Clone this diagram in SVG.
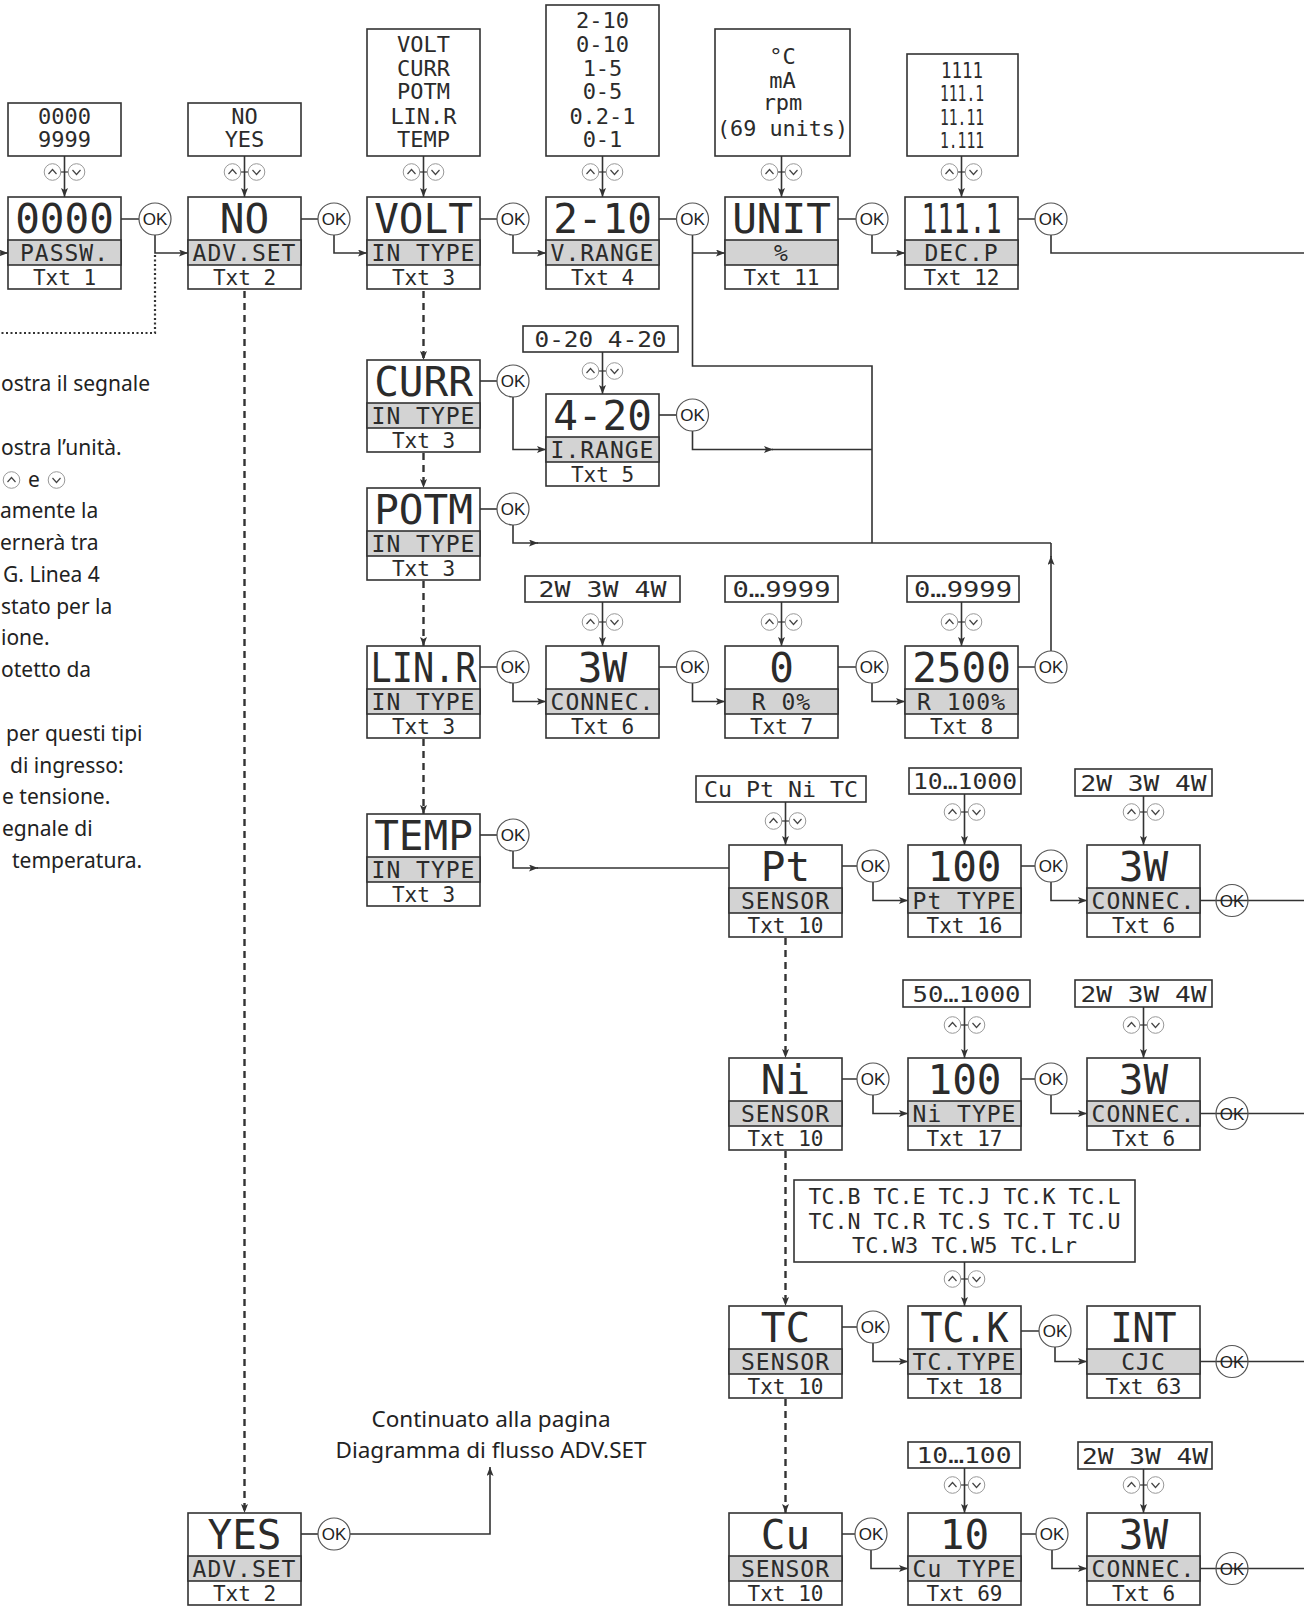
<svg xmlns="http://www.w3.org/2000/svg" width="1304" height="1606" viewBox="0 0 1304 1606">
<defs>
<style>
.bx{fill:#fff;stroke:#333;stroke-width:1.6}
.bd{fill:#d3d3d3;stroke:#333;stroke-width:1.6}
.lcd{font-family:"DejaVu Sans Mono","Liberation Mono",monospace;fill:#2b2b2b;text-anchor:middle}
.big{font-size:41px}
.mid{font-size:23px;letter-spacing:1px}
.sm{font-size:21px}
.opt{font-size:22px}
.ln{fill:none;stroke:#333;stroke-width:1.6}
.dash{stroke-dasharray:7 5;stroke-width:2.4}
.dot{stroke-dasharray:2 2.5;stroke-width:2.2}
.ok{fill:#fff;stroke:#555;stroke-width:1.2}
.okl{fill:none;stroke:#555;stroke-width:1.2}
.okt{font-family:"Liberation Sans",Arial,sans-serif;font-size:17px;fill:#222;text-anchor:middle}
.ic{fill:#fff;stroke:#999;stroke-width:1}
.ch{fill:none;stroke:#444;stroke-width:1.2}
.note{font-family:"Noto Sans","Open Sans",sans-serif;font-size:21px;fill:#222}
.cont{font-size:22.5px}
</style>
<marker id="ah" viewBox="0 0 9 7" markerWidth="9" markerHeight="7" refX="9" refY="3.5" orient="auto" markerUnits="userSpaceOnUse"><path d="M0,0 L9,3.5 L0,7 L2,3.5 z" fill="#333"/></marker>
<g id="frame"><rect class="bx" x="0" y="0" width="113" height="92"/><rect class="bd" x="0" y="43" width="113" height="25"/></g>
<g id="icup"><circle class="ic" cx="0" cy="0" r="8.3"/><path class="ch" d="M-4,2 L0,-2.5 L4,2"/></g>
<g id="icdn"><circle class="ic" cx="0" cy="0" r="8.3"/><path class="ch" d="M-4,-2 L0,2.5 L4,-2"/></g>
<g id="ud"><line x1="-4" y1="0" x2="4" y2="0" stroke="#333" stroke-width="1.2"/><use href="#icup" x="-12"/><use href="#icdn" x="12"/></g>
</defs>
<rect width="1304" height="1606" fill="#fff"/>

<g id="notes" class="note">
<text x="1" y="391">ostra il segnale</text>
<text x="1" y="455">ostra l’unità.</text>
<use href="#icup" x="11.5" y="480"/>
<text x="28" y="487">e</text>
<use href="#icdn" x="56.5" y="480"/>
<text x="0" y="518">amente la</text>
<text x="0" y="550">ernerà tra</text>
<text x="3" y="582">G. Linea 4</text>
<text x="1" y="614">stato per la</text>
<text x="1" y="645">ione.</text>
<text x="1" y="677">otetto da</text>
<text x="6" y="741">per questi tipi</text>
<text x="10" y="773">di ingresso:</text>
<text x="2" y="804">e tensione.</text>
<text x="2" y="836">egnale di</text>
<text x="12" y="868">temperatura.</text>
<text class="cont" x="491" y="1427" text-anchor="middle">Continuato alla pagina</text>
<text class="cont" x="491" y="1458" text-anchor="middle">Diagramma di flusso ADV.SET</text>
</g>

<g id="connectors" class="ln">
<path d="M121,219 H139 M301,219 H318 M480,219 H497 M659,219 H676.5 M838,219 H856 M1018,219 H1035"/>
<path d="M155,235 V253 H188" marker-end="url(#ah)"/>
<path d="M334,235 V253 H367" marker-end="url(#ah)"/>
<path d="M513,235 V253 H546" marker-end="url(#ah)"/>
<path d="M692.5,235 V366 H872 V543"/>
<path d="M692.5,253 H725" marker-end="url(#ah)"/>
<path d="M872,235 V253 H905" marker-end="url(#ah)"/>
<path d="M1051,235 V253 H1304"/>
<path d="M0,253 H8" marker-end="url(#ah)"/>
<path class="dot" d="M155,255 V333 H0"/>
<path d="M64.5,156 V197" marker-end="url(#ah)"/>
<path d="M244.5,156 V197" marker-end="url(#ah)"/>
<path d="M423.5,156 V197" marker-end="url(#ah)"/>
<path d="M602.5,156 V197" marker-end="url(#ah)"/>
<path d="M781.5,156 V197" marker-end="url(#ah)"/>
<path d="M961.5,156 V197" marker-end="url(#ah)"/>
<path class="dash" d="M244.5,291 V1513" marker-end="url(#ah)"/>
<path class="dash" d="M423.5,291 V360" marker-end="url(#ah)"/>
<path class="dash" d="M423.5,453 V488" marker-end="url(#ah)"/>
<path class="dash" d="M423.5,581 V646" marker-end="url(#ah)"/>
<path class="dash" d="M423.5,739 V814" marker-end="url(#ah)"/>
<path d="M480,381 H497"/>
<path d="M513,397 V449.5 H546" marker-end="url(#ah)"/>
<path d="M602.5,352 V394" marker-end="url(#ah)"/>
<path d="M659,415 H676.5"/>
<path d="M692.5,431 V449.5 H773" marker-end="url(#ah)"/>
<path d="M772,449.5 H872"/>
<path d="M480,509 H497"/>
<path d="M513,525 V543 H538" marker-end="url(#ah)"/>
<path d="M537,543 H1051"/>
<path d="M480,667 H497 M659,667 H676.5 M838,667 H856 M1018,667 H1035"/>
<path d="M513,683 V701.5 H546" marker-end="url(#ah)"/>
<path d="M692.5,683 V701.5 H725" marker-end="url(#ah)"/>
<path d="M872,683 V701.5 H905" marker-end="url(#ah)"/>
<path d="M1051,651 V556" marker-end="url(#ah)"/>
<path d="M1051,557 V543"/>
<path d="M602.5,602 V646" marker-end="url(#ah)"/>
<path d="M781.5,602 V646" marker-end="url(#ah)"/>
<path d="M961.5,602 V646" marker-end="url(#ah)"/>
<path d="M480,835 H497"/>
<path d="M513,851 V868 H538" marker-end="url(#ah)"/>
<path d="M537,868 H729"/>
<path d="M785.5,802 V845" marker-end="url(#ah)"/>
<path d="M964.5,794 V845" marker-end="url(#ah)"/>
<path d="M1143.5,796 V845" marker-end="url(#ah)"/>
<path d="M842,866 H857 M1021,866 H1035"/>
<path d="M873,882 V900.5 H908" marker-end="url(#ah)"/>
<path d="M1051,882 V900.5 H1087" marker-end="url(#ah)"/>
<path d="M1200,900.5 H1304"/>
<path class="dash" d="M785.5,938 V1058" marker-end="url(#ah)"/>
<path d="M964.5,1007 V1058" marker-end="url(#ah)"/>
<path d="M1143.5,1007 V1058" marker-end="url(#ah)"/>
<path d="M842,1079 H857 M1021,1079 H1035"/>
<path d="M873,1095 V1113.5 H908" marker-end="url(#ah)"/>
<path d="M1051,1095 V1113.5 H1087" marker-end="url(#ah)"/>
<path d="M1200,1113.5 H1304"/>
<path class="dash" d="M785.5,1151 V1306" marker-end="url(#ah)"/>
<path d="M964.5,1262 V1306" marker-end="url(#ah)"/>
<path d="M842,1327 H857 M1021,1331 H1039"/>
<path d="M873,1343 V1361.5 H908" marker-end="url(#ah)"/>
<path d="M1055,1347 V1361.5 H1087" marker-end="url(#ah)"/>
<path d="M1200,1361.5 H1304"/>
<path class="dash" d="M785.5,1399 V1513" marker-end="url(#ah)"/>
<path d="M964.5,1468 V1513" marker-end="url(#ah)"/>
<path d="M1143.5,1469 V1513" marker-end="url(#ah)"/>
<path d="M842,1534 H855 M1021,1534 H1036"/>
<path d="M871,1550 V1568.5 H908" marker-end="url(#ah)"/>
<path d="M1052,1550 V1568.5 H1087" marker-end="url(#ah)"/>
<path d="M1200,1568.5 H1304"/>
<path d="M301,1534 H318"/>
<path d="M350,1534 H490 V1467" marker-end="url(#ah)"/>
</g>

<g id="options" class="lcd opt">
<g id="opt-passw"><rect class="bx" x="8" y="103" width="113" height="53"/><text x="64.5" y="124">0000</text><text x="64.5" y="147">9999</text></g>
<g id="opt-advset"><rect class="bx" x="188" y="103" width="113" height="53"/><text x="244.5" y="124">NO</text><text x="244.5" y="147">YES</text></g>
<g id="opt-intype"><rect class="bx" x="367" y="29" width="113" height="127"/><text x="423.5" y="52">VOLT</text><text x="423.5" y="76">CURR</text><text x="423.5" y="99">POTM</text><text x="423.5" y="124">LIN.R</text><text x="423.5" y="147">TEMP</text></g>
<g id="opt-vrange"><rect class="bx" x="546" y="5" width="113" height="151"/><text x="602.5" y="28">2-10</text><text x="602.5" y="52">0-10</text><text x="602.5" y="76">1-5</text><text x="602.5" y="99">0-5</text><text x="602.5" y="124">0.2-1</text><text x="602.5" y="147">0-1</text></g>
<g id="opt-unit"><rect class="bx" x="715" y="29" width="135" height="127"/><text x="782.5" y="64">°C</text><text x="782.5" y="88">mA</text><text x="782.5" y="110">rpm</text><text x="782.5" y="136" textLength="131" lengthAdjust="spacingAndGlyphs">(69 units)</text></g>
<g id="opt-decp"><rect class="bx" x="907" y="54" width="111" height="102"/><text x="962" y="78" textLength="42" lengthAdjust="spacingAndGlyphs">1111</text><text x="962" y="101" textLength="44" lengthAdjust="spacingAndGlyphs">111.1</text><text x="962" y="125" textLength="44" lengthAdjust="spacingAndGlyphs">11.11</text><text x="962" y="148" textLength="44" lengthAdjust="spacingAndGlyphs">1.111</text></g>
<g id="opt-irange"><rect class="bx" x="523" y="326" width="155" height="26"/><text x="600.5" y="347" textLength="132" lengthAdjust="spacingAndGlyphs">0-20 4-20</text></g>
<g id="opt-connec-lin"><rect class="bx" x="525" y="576" width="155" height="26"/><text x="602.5" y="597" textLength="128" lengthAdjust="spacingAndGlyphs">2W 3W 4W</text></g>
<g id="opt-r0"><rect class="bx" x="725" y="576" width="113" height="26"/><text x="781.5" y="597" textLength="98" lengthAdjust="spacingAndGlyphs">0…9999</text></g>
<g id="opt-r100"><rect class="bx" x="907" y="576" width="112" height="26"/><text x="963" y="597" textLength="98" lengthAdjust="spacingAndGlyphs">0…9999</text></g>
<g id="opt-sensor"><rect class="bx" x="696" y="776" width="170" height="26"/><text x="781" y="797" textLength="154" lengthAdjust="spacingAndGlyphs">Cu Pt Ni TC</text></g>
<g id="opt-pttype"><rect class="bx" x="909" y="768" width="112" height="26"/><text x="965" y="789" textLength="104" lengthAdjust="spacingAndGlyphs">10…1000</text></g>
<g id="opt-connec-pt"><rect class="bx" x="1075" y="769" width="137" height="27"/><text x="1143.5" y="791" textLength="126" lengthAdjust="spacingAndGlyphs">2W 3W 4W</text></g>
<g id="opt-nitype"><rect class="bx" x="903" y="980" width="127" height="27"/><text x="966.5" y="1002" textLength="108" lengthAdjust="spacingAndGlyphs">50…1000</text></g>
<g id="opt-connec-ni"><rect class="bx" x="1075" y="980" width="137" height="27"/><text x="1143.5" y="1002" textLength="126" lengthAdjust="spacingAndGlyphs">2W 3W 4W</text></g>
<g id="opt-tctype"><rect class="bx" x="794" y="1180" width="341" height="82"/><text x="964.5" y="1204" textLength="312" lengthAdjust="spacingAndGlyphs">TC.B TC.E TC.J TC.K TC.L</text><text x="964.5" y="1229" textLength="312" lengthAdjust="spacingAndGlyphs">TC.N TC.R TC.S TC.T TC.U</text><text x="964.5" y="1253" textLength="225" lengthAdjust="spacingAndGlyphs">TC.W3 TC.W5 TC.Lr</text></g>
<g id="opt-cutype"><rect class="bx" x="908" y="1442" width="112" height="26"/><text x="964" y="1463" textLength="95" lengthAdjust="spacingAndGlyphs">10…100</text></g>
<g id="opt-connec-cu"><rect class="bx" x="1078" y="1442" width="134" height="27"/><text x="1145" y="1464" textLength="126" lengthAdjust="spacingAndGlyphs">2W 3W 4W</text></g>
</g>

<g id="updown">
<use href="#ud" x="64.5" y="172"/><use href="#ud" x="244.5" y="172"/><use href="#ud" x="423.5" y="172"/><use href="#ud" x="602.5" y="172"/><use href="#ud" x="781.5" y="172"/><use href="#ud" x="961.5" y="172"/>
<use href="#ud" x="602.5" y="371"/>
<use href="#ud" x="602.5" y="622"/><use href="#ud" x="781.5" y="622"/><use href="#ud" x="961.5" y="622"/>
<use href="#ud" x="785.5" y="821"/><use href="#ud" x="964.5" y="812"/><use href="#ud" x="1143.5" y="812"/>
<use href="#ud" x="964.5" y="1025"/><use href="#ud" x="1143.5" y="1025"/>
<use href="#ud" x="964.5" y="1279"/>
<use href="#ud" x="964.5" y="1485"/><use href="#ud" x="1143.5" y="1485"/>
</g>

<g id="n-passw" class="lcd" transform="translate(8,197)"><use href="#frame"/><text class="big" x="56.5" y="36">0000</text><text class="mid" x="56.5" y="64">PASSW.</text><text class="sm" x="56.5" y="88">Txt 1</text></g>
<g id="n-advset-no" class="lcd" transform="translate(188,197)"><use href="#frame"/><text class="big" x="56.5" y="36">NO</text><text class="mid" x="56.5" y="64">ADV.SET</text><text class="sm" x="56.5" y="88">Txt 2</text></g>
<g id="n-volt" class="lcd" transform="translate(367,197)"><use href="#frame"/><text class="big" x="56.5" y="36">VOLT</text><text class="mid" x="56.5" y="64">IN TYPE</text><text class="sm" x="56.5" y="88">Txt 3</text></g>
<g id="n-vrange" class="lcd" transform="translate(546,197)"><use href="#frame"/><text class="big" x="56.5" y="36">2-10</text><text class="mid" x="56.5" y="64">V.RANGE</text><text class="sm" x="56.5" y="88">Txt 4</text></g>
<g id="n-unit" class="lcd" transform="translate(725,197)"><use href="#frame"/><text class="big" x="56.5" y="36">UNIT</text><text class="mid" x="56.5" y="64">%</text><text class="sm" x="56.5" y="88">Txt 11</text></g>
<g id="n-decp" class="lcd" transform="translate(905,197)"><use href="#frame"/><text class="big" transform="translate(56.5,36) scale(0.65,1)" x="0" y="0">111.1</text><text class="mid" x="56.5" y="64">DEC.P</text><text class="sm" x="56.5" y="88">Txt 12</text></g>
<g id="n-curr" class="lcd" transform="translate(367,360)"><use href="#frame"/><text class="big" x="56.5" y="36">CURR</text><text class="mid" x="56.5" y="64">IN TYPE</text><text class="sm" x="56.5" y="88">Txt 3</text></g>
<g id="n-irange" class="lcd" transform="translate(546,394)"><use href="#frame"/><text class="big" x="56.5" y="36">4-20</text><text class="mid" x="56.5" y="64">I.RANGE</text><text class="sm" x="56.5" y="88">Txt 5</text></g>
<g id="n-potm" class="lcd" transform="translate(367,488)"><use href="#frame"/><text class="big" x="56.5" y="36">POTM</text><text class="mid" x="56.5" y="64">IN TYPE</text><text class="sm" x="56.5" y="88">Txt 3</text></g>
<g id="n-linr" class="lcd" transform="translate(367,646)"><use href="#frame"/><text class="big" x="56.5" y="36" textLength="106" lengthAdjust="spacingAndGlyphs">LIN.R</text><text class="mid" x="56.5" y="64">IN TYPE</text><text class="sm" x="56.5" y="88">Txt 3</text></g>
<g id="n-connec-lin" class="lcd" transform="translate(546,646)"><use href="#frame"/><text class="big" x="56.5" y="36">3W</text><text class="mid" x="56.5" y="64">CONNEC.</text><text class="sm" x="56.5" y="88">Txt 6</text></g>
<g id="n-r0" class="lcd" transform="translate(725,646)"><use href="#frame"/><text class="big" x="56.5" y="36">0</text><text class="mid" x="56.5" y="64">R 0%</text><text class="sm" x="56.5" y="88">Txt 7</text></g>
<g id="n-r100" class="lcd" transform="translate(905,646)"><use href="#frame"/><text class="big" x="56.5" y="36">2500</text><text class="mid" x="56.5" y="64">R 100%</text><text class="sm" x="56.5" y="88">Txt 8</text></g>
<g id="n-temp" class="lcd" transform="translate(367,814)"><use href="#frame"/><text class="big" x="56.5" y="36">TEMP</text><text class="mid" x="56.5" y="64">IN TYPE</text><text class="sm" x="56.5" y="88">Txt 3</text></g>
<g id="n-pt" class="lcd" transform="translate(729,845)"><use href="#frame"/><text class="big" x="56.5" y="36">Pt</text><text class="mid" x="56.5" y="64">SENSOR</text><text class="sm" x="56.5" y="88">Txt 10</text></g>
<g id="n-pttype" class="lcd" transform="translate(908,845)"><use href="#frame"/><text class="big" x="56.5" y="36">100</text><text class="mid" x="56.5" y="64">Pt TYPE</text><text class="sm" x="56.5" y="88">Txt 16</text></g>
<g id="n-connec-pt" class="lcd" transform="translate(1087,845)"><use href="#frame"/><text class="big" x="56.5" y="36">3W</text><text class="mid" x="56.5" y="64">CONNEC.</text><text class="sm" x="56.5" y="88">Txt 6</text></g>
<g id="n-ni" class="lcd" transform="translate(729,1058)"><use href="#frame"/><text class="big" x="56.5" y="36">Ni</text><text class="mid" x="56.5" y="64">SENSOR</text><text class="sm" x="56.5" y="88">Txt 10</text></g>
<g id="n-nitype" class="lcd" transform="translate(908,1058)"><use href="#frame"/><text class="big" x="56.5" y="36">100</text><text class="mid" x="56.5" y="64">Ni TYPE</text><text class="sm" x="56.5" y="88">Txt 17</text></g>
<g id="n-connec-ni" class="lcd" transform="translate(1087,1058)"><use href="#frame"/><text class="big" x="56.5" y="36">3W</text><text class="mid" x="56.5" y="64">CONNEC.</text><text class="sm" x="56.5" y="88">Txt 6</text></g>
<g id="n-tc" class="lcd" transform="translate(729,1306)"><use href="#frame"/><text class="big" x="56.5" y="36">TC</text><text class="mid" x="56.5" y="64">SENSOR</text><text class="sm" x="56.5" y="88">Txt 10</text></g>
<g id="n-tctype" class="lcd" transform="translate(908,1306)"><use href="#frame"/><text class="big" x="56.5" y="36" textLength="88" lengthAdjust="spacingAndGlyphs">TC.K</text><text class="mid" x="56.5" y="64">TC.TYPE</text><text class="sm" x="56.5" y="88">Txt 18</text></g>
<g id="n-cjc" class="lcd" transform="translate(1087,1306)"><use href="#frame"/><text class="big" x="56.5" y="36" textLength="66" lengthAdjust="spacingAndGlyphs">INT</text><text class="mid" x="56.5" y="64">CJC</text><text class="sm" x="56.5" y="88">Txt 63</text></g>
<g id="n-cu" class="lcd" transform="translate(729,1513)"><use href="#frame"/><text class="big" x="56.5" y="36">Cu</text><text class="mid" x="56.5" y="64">SENSOR</text><text class="sm" x="56.5" y="88">Txt 10</text></g>
<g id="n-cutype" class="lcd" transform="translate(908,1513)"><use href="#frame"/><text class="big" x="56.5" y="36">10</text><text class="mid" x="56.5" y="64">Cu TYPE</text><text class="sm" x="56.5" y="88">Txt 69</text></g>
<g id="n-connec-cu" class="lcd" transform="translate(1087,1513)"><use href="#frame"/><text class="big" x="56.5" y="36">3W</text><text class="mid" x="56.5" y="64">CONNEC.</text><text class="sm" x="56.5" y="88">Txt 6</text></g>
<g id="n-advset-yes" class="lcd" transform="translate(188,1513)"><use href="#frame"/><text class="big" x="56.5" y="36">YES</text><text class="mid" x="56.5" y="64">ADV.SET</text><text class="sm" x="56.5" y="88">Txt 2</text></g>

<g id="ok-buttons">
<g class="ok"><circle cx="155" cy="219" r="16"/><circle cx="334" cy="219" r="16"/><circle cx="513" cy="219" r="16"/><circle cx="692.5" cy="219" r="16"/><circle cx="872" cy="219" r="16"/><circle cx="1051" cy="219" r="16"/>
<circle cx="513" cy="381" r="16"/><circle cx="692.5" cy="415" r="16"/><circle cx="513" cy="509" r="16"/>
<circle cx="513" cy="667" r="16"/><circle cx="692.5" cy="667" r="16"/><circle cx="872" cy="667" r="16"/><circle cx="1051" cy="667" r="16"/>
<circle cx="513" cy="835" r="16"/>
<circle cx="873" cy="866" r="16"/><circle cx="1051" cy="866" r="16"/>
<circle cx="873" cy="1079" r="16"/><circle cx="1051" cy="1079" r="16"/>
<circle cx="873" cy="1327" r="16"/><circle cx="1055" cy="1331" r="16"/>
<circle cx="871" cy="1534" r="16"/><circle cx="1052" cy="1534" r="16"/>
<circle cx="334" cy="1534" r="16"/></g>
<g class="okl"><circle cx="1232" cy="900.5" r="16"/><circle cx="1232" cy="1113.5" r="16"/><circle cx="1232" cy="1361.5" r="16"/><circle cx="1232" cy="1568.5" r="16"/></g>
<g class="okt">
<text x="155" y="225">OK</text><text x="334" y="225">OK</text><text x="513" y="225">OK</text><text x="692.5" y="225">OK</text><text x="872" y="225">OK</text><text x="1051" y="225">OK</text>
<text x="513" y="387">OK</text><text x="692.5" y="421">OK</text><text x="513" y="515">OK</text>
<text x="513" y="673">OK</text><text x="692.5" y="673">OK</text><text x="872" y="673">OK</text><text x="1051" y="673">OK</text>
<text x="513" y="841">OK</text>
<text x="873" y="872">OK</text><text x="1051" y="872">OK</text><text x="1232" y="906.5">OK</text>
<text x="873" y="1085">OK</text><text x="1051" y="1085">OK</text><text x="1232" y="1119.5">OK</text>
<text x="873" y="1333">OK</text><text x="1055" y="1337">OK</text><text x="1232" y="1367.5">OK</text>
<text x="871" y="1540">OK</text><text x="1052" y="1540">OK</text><text x="1232" y="1574.5">OK</text>
<text x="334" y="1540">OK</text>
</g>
</g>
</svg>
